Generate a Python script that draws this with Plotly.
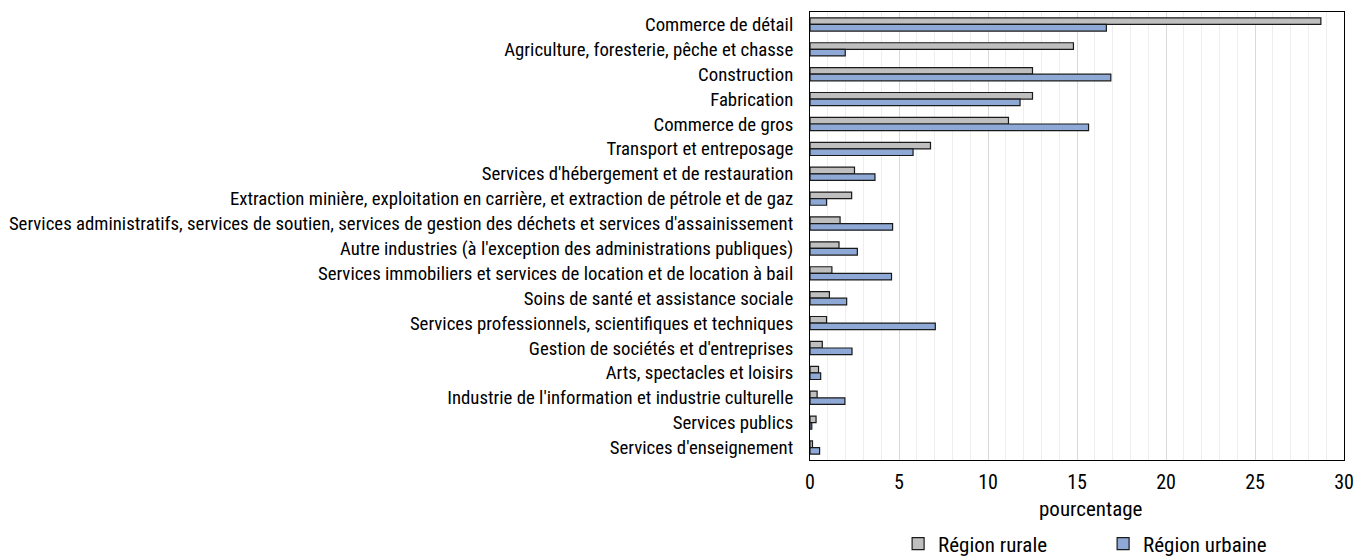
import plotly.graph_objects as go

categories = [
    "Commerce de détail",
    "Agriculture, foresterie, pêche et chasse",
    "Construction",
    "Fabrication",
    "Commerce de gros",
    "Transport et entreposage",
    "Services d'hébergement et de restauration",
    "Extraction minière, exploitation en carrière, et extraction de pétrole et de gaz",
    "Services administratifs, services de soutien, services de gestion des déchets et services d'assainissement",
    "Autre industries (à l'exception des administrations publiques)",
    "Services immobiliers et services de location et de location à bail",
    "Soins de santé et assistance sociale",
    "Services professionnels, scientifiques et techniques",
    "Gestion de sociétés et d'entreprises",
    "Arts, spectacles et loisirs",
    "Industrie de l'information et industrie culturelle",
    "Services publics",
    "Services d'enseignement",
]
rural = [28.7, 14.8, 12.5, 12.5, 11.15, 6.77, 2.5, 2.34, 1.69, 1.63, 1.23, 1.09, 0.93, 0.69, 0.48, 0.4, 0.34, 0.14]
urbain = [16.65, 1.98, 16.9, 11.8, 15.65, 5.79, 3.65, 0.93, 4.64, 2.66, 4.58, 2.06, 7.04, 2.36, 0.6, 1.96, 0.1, 0.54]
series_names = ["Région rurale", "Région urbaine"]
x_ticks = [0, 5, 10, 15, 20, 25, 30]
x_title = "pourcentage"

FONT = "Roboto Condensed, Roboto, sans-serif"

fig = go.Figure()
fig.add_trace(go.Bar(
    y=categories, x=rural, orientation="h", name=series_names[0],
    marker=dict(color="#BFBFBF", line=dict(color="#1A1A1A", width=1.2)),
))
fig.add_trace(go.Bar(
    y=categories, x=urbain, orientation="h", name=series_names[1],
    marker=dict(color="#8EA9D6", line=dict(color="#1A1A1A", width=1.2)),
))

# the page body adds an 8 px offset; figure sized to fit the window
fig.update_layout(
    width=1359, height=548,
    margin=dict(l=802, r=23, t=4, b=96, autoexpand=False),
    paper_bgcolor="white", plot_bgcolor="white",
    barmode="group", bargap=0.47, bargroupgap=0,
    font=dict(family=FONT, size=18.8, color="#000000"),
    legend=dict(orientation="h", x=0.165, y=-0.1875, xanchor="left", yanchor="middle",
                xref="paper", yref="paper", font=dict(size=21),
                itemwidth=30, entrywidth=160),
    showlegend=True,
)
fig.add_annotation(
    text=x_title, xref="paper", yref="paper", x=0.526, y=-0.11,
    xanchor="center", yanchor="middle", showarrow=False, font=dict(size=21),
)
fig.update_xaxes(
    range=[0, 30], tickvals=x_ticks, ticks="", showline=True, linecolor="#000000",
    linewidth=1, mirror=True, gridcolor="#D9D9D9", gridwidth=1,
    minor=dict(dtick=1, gridcolor="#EEEEEE", showgrid=True),
    tickfont=dict(size=20), zeroline=False, ticklabelstandoff=4,
)
fig.update_yaxes(
    autorange="reversed", showline=True, linecolor="#000000", linewidth=1, mirror=True,
    tickfont=dict(size=18.8), ticks="", ticklabelstandoff=12, showgrid=False,
)

fig.write_html("out.html")
